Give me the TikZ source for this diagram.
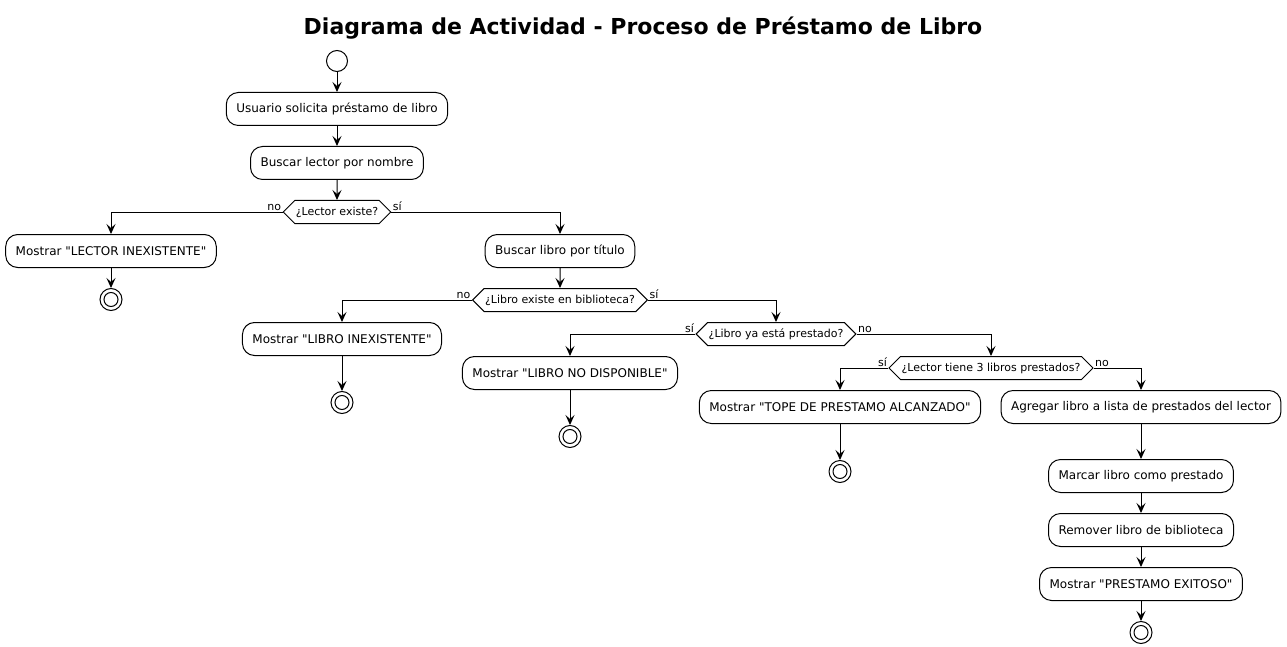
\documentclass[tikz,border=0pt]{standalone}
\usepackage{fontspec}
\setmainfont{DejaVu Sans}[Ligatures=TeXOff]
\usetikzlibrary{shapes.symbols, arrows.meta, positioning}

\begin{document}
\begin{tikzpicture}[
    x=1pt, y=1pt,
    node distance=20pt,
    action/.style={rectangle, draw, rounded corners=12pt, minimum height=33pt, inner xsep=10pt, font=\fontsize{12}{14}\selectfont, line width=1pt},
    decision/.style={signal, signal to=west and east, draw, minimum height=23pt, inner xsep=1pt, inner ysep=2pt, font=\fontsize{11}{13}\selectfont, line width=1pt},
    startnode/.style={circle, draw, minimum size=21pt, inner sep=0pt, line width=1pt},
    endnode/.style={circle, draw, minimum size=22pt, inner sep=0pt, line width=1pt, path picture={\draw [line width=1pt] (path picture bounding box.center) circle (7pt);}},
    guard/.style={font=\fontsize{11}{13}\selectfont, inner sep=1pt},
    arrow/.style={line width=1pt, -{Stealth[length=10pt, width=9pt, inset=4pt]}}
]
    \useasboundingbox (0,0) rectangle (1287,-647);

    % Title
    \node (title) at (643,-28) [font=\bfseries\fontsize{22}{26}\selectfont] {Diagrama de Actividad - Proceso de Préstamo de Libro};

    % Nodes placement
    \node (start) at (337,-61) [startnode] {};
    \node (solicita) [action, below=of start] {Usuario solicita préstamo de libro};
    \node (buscarlector) [action, below=of solicita] {Buscar lector por nombre};
    \node (lectorexiste) [decision, below=of buscarlector] {¿Lector existe?};

    \node (lectorinex) [action, below=10pt of lectorexiste, xshift=-226pt] {Mostrar "LECTOR INEXISTENTE"};
    \node (fin1) [endnode, below=20pt of lectorinex] {};

    \node (buscarlibro) [action, below=10pt of lectorexiste, xshift=223pt] {Buscar libro por título};
    \node (libroexiste) [decision, below=of buscarlibro] {¿Libro existe en biblioteca?};

    \node (libroinex) [action, below=10pt of libroexiste, xshift=-218pt] {Mostrar "LIBRO INEXISTENTE"};
    \node (fin2) [endnode, below=35pt of libroinex] {};

    \node (prestado) [decision, below=10pt of libroexiste, xshift=216pt] {¿Libro ya está prestado?};

    \node (nodisponible) [action, below=10pt of prestado, xshift=-206pt] {Mostrar "LIBRO NO DISPONIBLE"};
    \node (fin3) [endnode, below=35pt of nodisponible] {};

    \node (tope) [decision, below=10pt of prestado, xshift=215pt] {¿Lector tiene 3 libros prestados?};

    \node (alcanzado) [action, below=10pt of tope, xshift=-151pt] {Mostrar "TOPE DE PRESTAMO ALCANZADO"};
    \node (fin4) [endnode, below=36pt of alcanzado] {};

    \node (agregar) [action, below=10pt of tope, xshift=150pt] {Agregar libro a lista de prestados del lector};
    \node (marcar) [action, below=35pt of agregar] {Marcar libro como prestado};
    \node (remover) [action, below=of marcar] {Remover libro de biblioteca};
    \node (exitoso) [action, below=of remover] {Mostrar "PRESTAMO EXITOSO"};
    \node (fin5) [endnode, below=of exitoso] {};

    % Main flow
    \draw [arrow] (start) -- (solicita);
    \draw [arrow] (solicita) -- (buscarlector);
    \draw [arrow] (buscarlector) -- (lectorexiste);
    \draw [arrow] (lectorinex) -- (fin1);
    \draw [arrow] (buscarlibro) -- (libroexiste);
    \draw [arrow] (libroinex) -- (fin2);
    \draw [arrow] (nodisponible) -- (fin3);
    \draw [arrow] (alcanzado) -- (fin4);
    \draw [arrow] (agregar) -- (marcar);
    \draw [arrow] (marcar) -- (remover);
    \draw [arrow] (remover) -- (exitoso);
    \draw [arrow] (exitoso) -- (fin5);

    % Branches
    \draw [arrow] (lectorexiste.west) -| (lectorinex.north) node[guard, pos=0, above left] {no};
    \draw [arrow] (lectorexiste.east) -| (buscarlibro.north) node[guard, pos=0, above right] {sí};
    \draw [arrow] (libroexiste.west) -| (libroinex.north) node[guard, pos=0, above left] {no};
    \draw [arrow] (libroexiste.east) -| (prestado.north) node[guard, pos=0, above right] {sí};
    \draw [arrow] (prestado.west) -| (nodisponible.north) node[guard, pos=0, above left] {sí};
    \draw [arrow] (prestado.east) -| (tope.north) node[guard, pos=0, above right] {no};
    \draw [arrow] (tope.west) -| (alcanzado.north) node[guard, pos=0, above left] {sí};
    \draw [arrow] (tope.east) -| (agregar.north) node[guard, pos=0, above right] {no};

\end{tikzpicture}
\end{document}
